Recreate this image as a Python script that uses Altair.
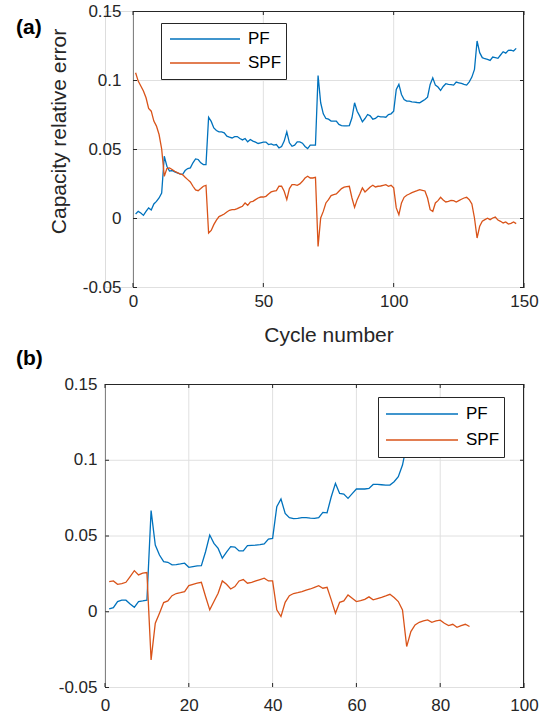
import altair as alt
import pandas as pd

# ---------------- data ----------------
# (a) full test: relative capacity error per cycle
cycles_a = list(range(1, 148))
pf_a = [
    0.0029, 0.0048, 0.0036, 0.0019, 0.0048, 0.0073, 0.0058, 0.0102, 0.0120, 0.0145,
    0.0180, 0.0448, 0.0375, 0.0340, 0.0344, 0.0334, 0.0327, 0.0320, 0.0315, 0.0344,
    0.0358, 0.0363, 0.0400, 0.0428, 0.0424, 0.0400, 0.0387, 0.0387, 0.0730, 0.0700,
    0.0653, 0.0634, 0.0624, 0.0624, 0.0617, 0.0593, 0.0586, 0.0580, 0.0590, 0.0590,
    0.0576, 0.0566, 0.0576, 0.0552, 0.0569, 0.0557, 0.0550, 0.0540, 0.0545, 0.0550,
    0.0550, 0.0532, 0.0537, 0.0528, 0.0532, 0.0508, 0.0518, 0.0557, 0.0624, 0.0545,
    0.0520, 0.0528, 0.0552, 0.0552, 0.0542, 0.0518, 0.0503, 0.0528, 0.0528, 0.0528,
    0.1033, 0.0835, 0.0755, 0.0721, 0.0716, 0.0702, 0.0702, 0.0702, 0.0678, 0.0670,
    0.0668, 0.0668, 0.0670, 0.0726, 0.0835, 0.0774, 0.0738, 0.0697, 0.0721, 0.0750,
    0.0740, 0.0716, 0.0721, 0.0738, 0.0733, 0.0733, 0.0730, 0.0750, 0.0755, 0.0774,
    0.0932, 0.0968, 0.0895, 0.0859, 0.0847, 0.0847, 0.0842, 0.0840, 0.0837, 0.0835,
    0.0847, 0.0859, 0.0876, 0.0968, 0.1016, 0.0963, 0.0949, 0.0924, 0.0953, 0.0973,
    0.0968, 0.0966, 0.0963, 0.0985, 0.0980, 0.0975, 0.0968, 0.0963, 0.0987, 0.1021,
    0.1077, 0.1283, 0.1198, 0.1162, 0.1154, 0.1150, 0.1142, 0.1166, 0.1162, 0.1157,
    0.1181, 0.1205, 0.1195, 0.1215, 0.1217, 0.1210, 0.1229,
]
spf_a = [
    0.1053, 0.0992, 0.0956, 0.0920, 0.0871, 0.0794, 0.0774, 0.0702, 0.0666, 0.0605,
    0.0500, 0.0302, 0.0358, 0.0363, 0.0351, 0.0339, 0.0329, 0.0320, 0.0315, 0.0295,
    0.0278, 0.0261, 0.0230, 0.0203, 0.0198, 0.0213, 0.0230, 0.0237, -0.0109, -0.0090,
    -0.0048, -0.0015, 0.0010, 0.0019, 0.0029, 0.0044, 0.0056, 0.0060, 0.0060, 0.0068,
    0.0077, 0.0085, 0.0109, 0.0092, 0.0116, 0.0121, 0.0133, 0.0145, 0.0152, 0.0152,
    0.0157, 0.0174, 0.0189, 0.0194, 0.0198, 0.0230, 0.0230, 0.0194, 0.0133, 0.0213,
    0.0242, 0.0242, 0.0237, 0.0247, 0.0266, 0.0290, 0.0302, 0.0290, 0.0290, 0.0295,
    -0.0206, 0.0000, 0.0048, 0.0109, 0.0133, 0.0162, 0.0169, 0.0174, 0.0194, 0.0213,
    0.0223, 0.0227, 0.0230, 0.0145, 0.0077, 0.0133, 0.0174, 0.0218, 0.0189, 0.0206,
    0.0225, 0.0237, 0.0225, 0.0230, 0.0232, 0.0237, 0.0242, 0.0230, 0.0237, 0.0218,
    0.0073, 0.0024, 0.0109, 0.0150, 0.0165, 0.0174, 0.0184, 0.0191, 0.0198, 0.0206,
    0.0201, 0.0196, 0.0145, 0.0060, 0.0048, 0.0109, 0.0126, 0.0150, 0.0131, 0.0116,
    0.0121, 0.0128, 0.0126, 0.0116, 0.0126, 0.0136, 0.0145, 0.0150, 0.0133, 0.0102,
    0.0000, -0.0145, -0.0060, -0.0024, -0.0012, -0.0002, -0.0012, 0.0000, 0.0007, -0.0015,
    -0.0024, -0.0036, -0.0029, -0.0044, -0.0039, -0.0029, -0.0041,
]

# (b) second test
cycles_b_pf = list(range(1, 73))
pf_b = [
    0.0015, 0.0024, 0.0064, 0.0073, 0.0073, 0.0048, 0.0026, 0.0064, 0.0068, 0.0073,
    0.0664, 0.0437, 0.0371, 0.0328, 0.0323, 0.0306, 0.0308, 0.0312, 0.0317, 0.0290,
    0.0295, 0.0299, 0.0301, 0.0393, 0.0503, 0.0448, 0.0415, 0.0350, 0.0390, 0.0426,
    0.0424, 0.0398, 0.0398, 0.0433, 0.0435, 0.0437, 0.0440, 0.0444, 0.0477, 0.0481,
    0.0690, 0.0741, 0.0646, 0.0618, 0.0611, 0.0613, 0.0618, 0.0618, 0.0615, 0.0613,
    0.0618, 0.0653, 0.0650, 0.0756, 0.0844, 0.0778, 0.0774, 0.0745, 0.0776, 0.0807,
    0.0807, 0.0807, 0.0811, 0.0837, 0.0837, 0.0835, 0.0833, 0.0833, 0.0855, 0.0888,
    0.0965, 0.1100,
]
cycles_b_spf = list(range(1, 88))
spf_b = [
    0.0196, 0.0200, 0.0178, 0.0182, 0.0191, 0.0229, 0.0268, 0.0240, 0.0251, 0.0255,
    -0.0321, -0.0079, -0.0013, 0.0057, 0.0068, 0.0103, 0.0117, 0.0123, 0.0130, 0.0169,
    0.0178, 0.0185, 0.0191, 0.0097, 0.0009, 0.0064, 0.0119, 0.0200, 0.0178, 0.0147,
    0.0163, 0.0200, 0.0209, 0.0185, 0.0191, 0.0200, 0.0209, 0.0218, 0.0200, 0.0200,
    0.0009, -0.0035, 0.0059, 0.0103, 0.0117, 0.0123, 0.0130, 0.0139, 0.0147, 0.0158,
    0.0169, 0.0152, 0.0158, 0.0075, -0.0013, 0.0059, 0.0068, 0.0108, 0.0086, 0.0064,
    0.0070, 0.0079, 0.0095, 0.0075, 0.0084, 0.0092, 0.0101, 0.0112, 0.0090, 0.0064,
    0.0009, -0.0233, -0.0134, -0.0090, -0.0073, -0.0064, -0.0057, -0.0073, -0.0064, -0.0059,
    -0.0079, -0.0095, -0.0086, -0.0106, -0.0095, -0.0086, -0.0101,
]

series_names = ["PF", "SPF"]
series_colors = ["#0072BD", "#D95319"]
x_ticks_a = [0, 50, 100, 150]
x_ticks_b = [0, 20, 40, 60, 80, 100]
y_ticks = [-0.05, 0, 0.05, 0.1, 0.15]
Y_MIN, Y_MAX = -0.05, 0.15

# ---------------- styling ----------------
FONT = "Liberation Sans"
INK = "#262626"
AXIS = "#262626"
GRID = "#e0e0e0"
TICK = 4
HALF = 0.5  # snap 1px strokes onto the pixel grid

Y_LABELS = ("datum.value < 0 ? '-' + format(-datum.value, '.2~f') "
            ": format(datum.value, '.2~f')")


def long_table(c_pf, pf, c_spf, spf):
    return pd.concat(
        [
            pd.DataFrame({"cycle": c_pf, "value": pf, "series": "PF"}),
            pd.DataFrame({"cycle": c_spf, "value": spf, "series": "SPF"}),
        ],
        ignore_index=True,
    )


def make_panel(table, x_max, x_ticks, width, height, inset, tag, tag_y,
               legend_x, legend_y, legend_row, symbol_len, symbol_off,
               y_label_pad, x_label_pad, x_title=None, y_title=None):
    xs = alt.Scale(domain=[0, x_max], range=[inset, width], nice=False, zero=False)
    ys = alt.Scale(domain=[Y_MIN, Y_MAX], nice=False, zero=False)

    x_opts = dict(values=x_ticks, format="d", grid=False, ticks=False,
                  domainColor=AXIS, domainWidth=1, labelFont=FONT,
                  labelFontSize=17, labelColor=INK, labelPadding=x_label_pad,
                  labelFlush=False, labelOverlap=False, title=x_title)
    if x_title:
        x_opts.update(titleFont=FONT, titleFontSize=21, titleFontWeight="normal",
                      titleColor=INK, titlePadding=15)
    y_opts = dict(values=y_ticks, labelExpr=Y_LABELS, grid=False, ticks=False,
                  domainColor=AXIS, domainWidth=1,
                  labelFont=FONT, labelFontSize=17, labelColor=INK,
                  labelPadding=y_label_pad, labelFlush=False, labelOverlap=False,
                  offset=-inset, title=y_title)
    if y_title:
        y_opts.update(titleFont=FONT, titleFontSize=21, titleFontWeight="normal",
                      titleColor=INK, titleX=-64, titleY=120, titleAngle=270,
                      titleBaseline="bottom")
    x_axis = alt.Axis(**x_opts)
    y_axis = alt.Axis(**y_opts)

    # every layer carries the same axis definition so the merged axes survive
    def px(field):
        return alt.X(field, type="quantitative", scale=xs, axis=x_axis)

    def py(field):
        return alt.Y(field, type="quantitative", scale=ys, axis=y_axis)

    nx, ny = len(x_ticks), len(y_ticks)
    # tick length expressed in data units of each axis
    dx = (x_max - 0) * TICK / (width - inset)
    dy = (Y_MAX - Y_MIN) * TICK / height

    def vrules(xv, y0, y1, color, x_shift=0.0):
        df = pd.DataFrame({"cycle": xv, "value": y0, "value_end": y1})
        return alt.Chart(df).mark_rule(color=color, strokeWidth=1, xOffset=x_shift).encode(
            x=px("cycle"), y=py("value"), y2="value_end")

    def hrules(yv, x0, x1, color, y_shift=HALF):
        df = pd.DataFrame({"value": yv, "cycle": x0, "cycle_end": x1})
        return alt.Chart(df).mark_rule(color=color, strokeWidth=1, yOffset=y_shift).encode(
            y=py("value"), x=px("cycle"), x2="cycle_end")

    layers = [
        # light grid
        vrules(x_ticks, [Y_MIN] * nx, [Y_MAX] * nx, GRID),
        hrules(y_ticks, [0] * ny, [x_max] * ny, GRID),
        # closed box: top and right edges
        hrules([Y_MAX], [0], [x_max], AXIS),
        vrules([x_max], [Y_MIN], [Y_MAX], AXIS, -HALF),
        # inward ticks on all four sides
        vrules(x_ticks, [Y_MIN] * nx, [Y_MIN + dy] * nx, AXIS),
        vrules(x_ticks, [Y_MAX] * nx, [Y_MAX - dy] * nx, AXIS),
        hrules(y_ticks, [0] * ny, [dx] * ny, AXIS),
        hrules(y_ticks, [x_max] * ny, [x_max - dx] * ny, AXIS),
    ]

    legend = alt.Legend(
        orient="none", legendX=legend_x, legendY=legend_y, title=None,
        symbolType="stroke", symbolSize=symbol_len ** 2, symbolStrokeWidth=1.4,
        symbolOffset=symbol_off, labelOffset=7, clipHeight=legend_row, rowPadding=0,
        padding=4, labelFont=FONT, labelFontSize=17, labelColor="#000000",
        labelExpr="datum.label + '\u00a0\u00a0'",
        strokeColor=AXIS, fillColor="#ffffff",
    )

    lines = alt.Chart(table).mark_line(strokeWidth=1.3).encode(
        x=px("cycle"),
        y=py("value"),
        color=alt.Color("series:N",
                        scale=alt.Scale(domain=series_names, range=series_colors),
                        legend=legend),
    )

    label = alt.Chart(pd.DataFrame({"tag": [tag]})).mark_text(
        x=-89, y=tag_y, align="left", baseline="middle", font=FONT, fontSize=21,
        fontWeight="bold", color="#000000").encode(text="tag:N")

    return alt.layer(*layers, lines, label).properties(width=width, height=height)


panel_a = make_panel(
    long_table(cycles_a, pf_a, cycles_a, spf_a), 150, x_ticks_a, 419, 276, 28,
    "(a)", 17, 56, 12, 24, 70, 4, 12, 6,
    x_title="Cycle number", y_title="Capacity relative error")

panel_b = make_panel(
    long_table(cycles_b_pf, pf_b, cycles_b_spf, spf_b), 100, x_ticks_b, 419, 303, 0,
    "(b)", -25, 273, 13, 26, 72, 3, 8, 10)

chart = (
    alt.vconcat(panel_a, panel_b, spacing=1)
    .resolve_scale(color="independent")
    .configure_view(stroke=None)
    .configure(background="#ffffff")
    .properties(padding={"left": 15, "top": 1, "right": 5, "bottom": 5})
)

chart.save("out.html", embed_options={"renderer": "svg", "actions": False})
